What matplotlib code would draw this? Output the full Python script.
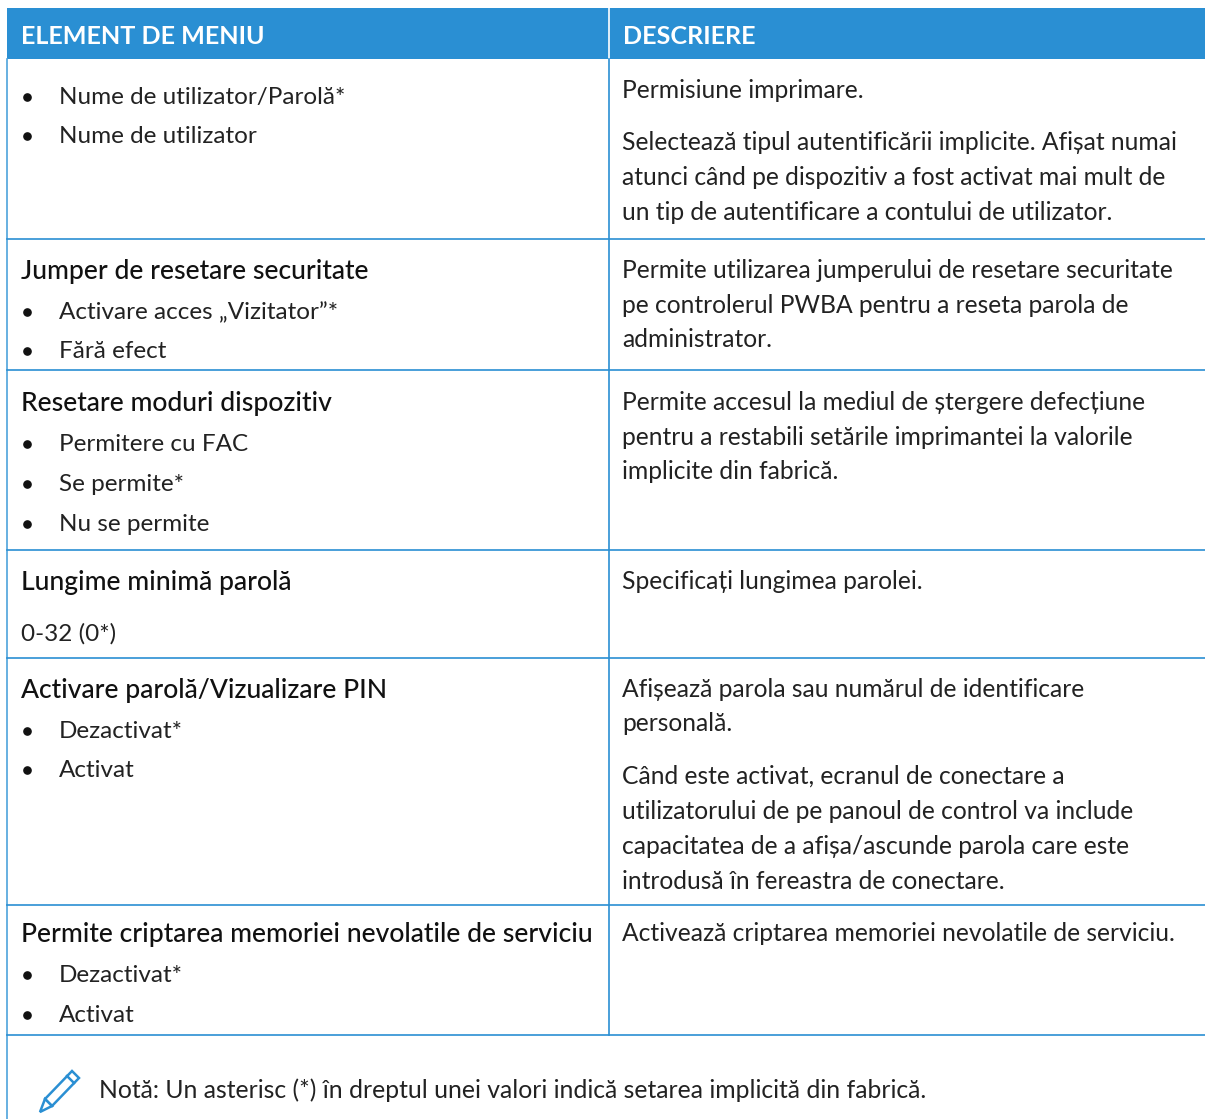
import matplotlib
matplotlib.use("Agg")
import matplotlib.pyplot as plt
from matplotlib.patches import Rectangle, Polygon

W, H = 1205, 1119
BLUE = "#2a8fd3"
LINE = "#2a8fd3"
TXT = "#222222"

headers = ["ELEMENT DE MENIU", "DESCRIERE"]

# left column: (text, y, kind)
left_items = [
    ("Nume de utilizator/Parolă*", 95, "b"),
    ("Nume de utilizator", 134, "b"),
    ("Jumper de resetare securitate", 270, "h"),
    ("Activare acces „Vizitator”*", 310, "b"),
    ("Fără efect", 349, "b"),
    ("Resetare moduri dispozitiv", 402, "h"),
    ("Permitere cu FAC", 442, "b"),
    ("Se permite*", 482, "b"),
    ("Nu se permite", 522, "b"),
    ("Lungime minimă parolă", 581, "h"),
    ("0-32 (0*)", 632, "p"),
    ("Activare parolă/Vizualizare PIN", 689, "h"),
    ("Dezactivat*", 729, "b"),
    ("Activat", 768, "b"),
    ("Permite criptarea memoriei nevolatile de serviciu", 933, "h"),
    ("Dezactivat*", 973, "b"),
    ("Activat", 1013, "b"),
]

right_items = [
    ("Permisiune imprimare.", 90),
    ("Selectează tipul autentificării implicite. Afișat numai", 142),
    ("atunci când pe dispozitiv a fost activat mai mult de", 177),
    ("un tip de autentificare a contului de utilizator.", 212),
    ("Permite utilizarea jumperului de resetare securitate", 270),
    ("pe controlerul PWBA pentru a reseta parola de", 305),
    ("administrator.", 339),
    ("Permite accesul la mediul de ștergere defecțiune", 402),
    ("pentru a restabili setările imprimantei la valorile", 437),
    ("implicite din fabrică.", 471),
    ("Specificați lungimea parolei.", 581),
    ("Afișează parola sau numărul de identificare", 689),
    ("personală.", 723),
    ("Când este activat, ecranul de conectare a", 776),
    ("utilizatorului de pe panoul de control va include", 811),
    ("capacitatea de a afișa/ascunde parola care este", 846),
    ("introdusă în fereastra de conectare.", 881),
    ("Activează criptarea memoriei nevolatile de serviciu.", 933),
]

row_lines = [239, 370, 550, 658, 905, 1035]
note = "Notă: Un asterisc (*) în dreptul unei valori indică setarea implicită din fabrică."

plt.rcParams["font.family"] = ["Lato", "DejaVu Sans"]

fig = plt.figure(figsize=(W / 100, H / 100), dpi=100)
ax = fig.add_axes([0, 0, 1, 1])
ax.set_xlim(0, W)
ax.set_ylim(H, 0)
ax.axis("off")

# header band
ax.add_patch(Rectangle((7, 8), W - 7, 51, color=BLUE, lw=0))
ax.plot([609, 609], [8, 59], color="white", lw=1.2)
ax.text(21, 44, headers[0], color="white", fontsize=18.1, fontweight="bold", va="baseline")
ax.text(623, 44, headers[1], color="white", fontsize=18.1, fontweight="bold", va="baseline")

# grid
ax.plot([7, 7], [59, 1119], color="#4ea3dc", lw=1.2)
ax.plot([609, 609], [59, 1035], color=LINE, lw=1.2)
for y in row_lines:
    ax.plot([7, W], [y, y], color=LINE, lw=1.2)

for s, y, kind in left_items:
    if kind == "h":
        ax.text(21, y + 9, s, color="#111111", fontsize=19.1, fontweight="medium", va="baseline")
    elif kind == "p":
        ax.text(21, y + 9, s, color=TXT, fontsize=17.5, va="baseline")
    else:
        ax.plot([27], [y + 2], "o", color="#111111", ms=5.2)
        ax.text(59, y + 9, s, color=TXT, fontsize=17.5, va="baseline")

for s, y in right_items:
    ax.text(622, y + 8, s, color=TXT, fontsize=17.75, va="baseline")

# pencil icon next to the note
ax.add_patch(Polygon([(45, 1099), (72, 1071), (79, 1078), (52, 1106)],
                     closed=True, fc="white", ec=BLUE, lw=1.8))
ax.add_patch(Polygon([(45, 1099), (52, 1106), (40, 1112)], closed=True, fc="white", ec=BLUE, lw=1.8))
ax.plot([67, 74], [1076, 1083], color=BLUE, lw=1.8)

ax.text(99, 1098, note, color=TXT, fontsize=17.85, va="baseline")

fig.savefig("out.png", dpi=100)
